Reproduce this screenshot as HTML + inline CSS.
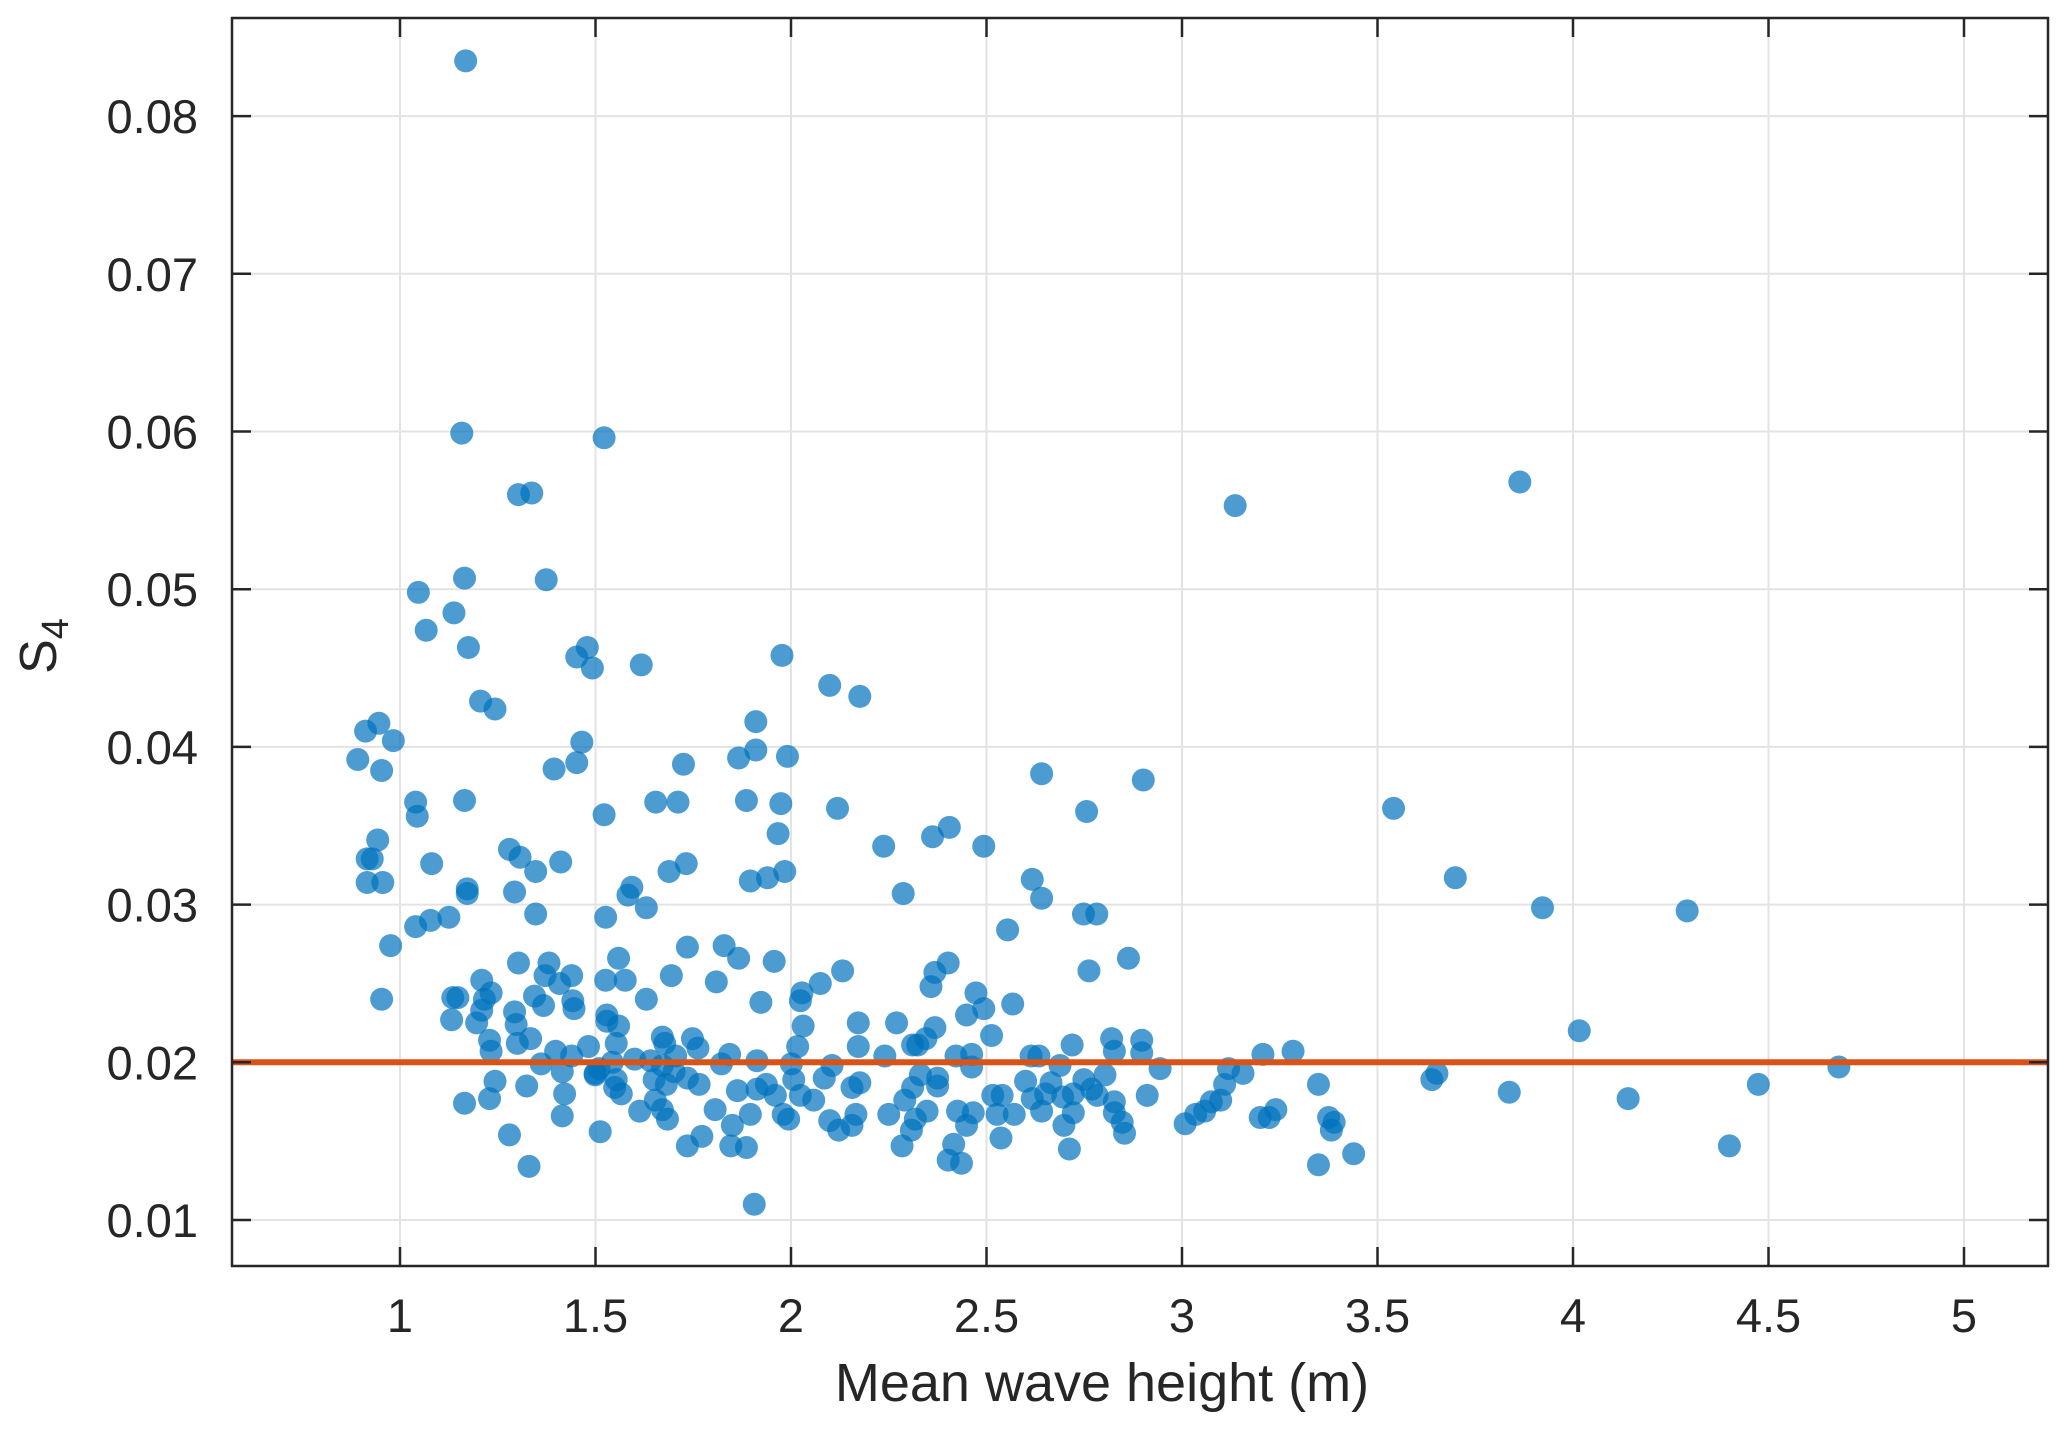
<!DOCTYPE html>
<html><head><meta charset="utf-8"><style>
body{margin:0;background:#fff;}
svg text{font-family:"Liberation Sans",Arial,sans-serif;fill:#262626;}
</style></head><body>
<svg id="chart" width="2067" height="1430" viewBox="0 0 2067 1430">
<g id="grid"></g>
<g id="dots"></g>
<line id="thr" stroke="#D95319" stroke-width="6"/>
<g id="axes"></g>
<text x="1102" y="1401" font-size="54" text-anchor="middle">Mean wave height (m)</text>
<text transform="translate(56,646) rotate(-90)" font-size="52" text-anchor="middle">S<tspan font-size="38" dy="12">4</tspan></text>
</svg>
<script>
const xTicks=[1,1.5,2,2.5,3,3.5,4,4.5,5];
const xTickLabels=["1","1.5","2","2.5","3","3.5","4","4.5","5"];
const yTicks=[0.01,0.02,0.03,0.04,0.05,0.06,0.07,0.08];
const yTickLabels=["0.01","0.02","0.03","0.04","0.05","0.06","0.07","0.08"];
const threshold=0.02;
const xs=[1.168,1.158,1.522,1.303,1.337,3.136,3.864,1.047,1.165,1.374,1.138,1.067,1.175,1.479,1.452,1.492,1.617,1.977,2.099,2.176,1.206,1.243,0.892,0.912,0.946,0.983,0.953,1.394,1.452,1.465,1.910,1.910,1.866,1.991,1.725,1.040,1.044,1.165,1.522,1.654,1.711,1.886,1.974,2.119,1.967,2.237,2.362,2.405,2.493,2.641,2.756,2.901,3.541,3.699,3.922,4.292,4.016,4.680,4.474,4.141,4.400,3.837,3.652,3.639,0.943,0.916,0.929,0.916,0.956,0.976,0.953,1.081,1.040,1.078,1.125,1.172,1.172,1.280,1.307,1.347,1.411,1.293,1.347,1.526,1.593,1.583,1.630,1.688,1.732,1.896,1.940,1.984,2.287,2.617,2.641,2.748,2.782,2.554,2.762,2.863,2.402,2.368,2.358,2.132,2.075,1.957,2.028,2.024,1.829,1.866,1.735,1.694,1.559,1.576,1.526,1.630,1.809,1.923,1.381,1.371,1.303,1.209,1.135,1.148,1.233,1.216,1.209,1.132,1.196,1.293,1.297,1.344,1.367,1.408,1.439,1.442,1.445,1.229,1.233,1.300,1.334,1.529,1.529,1.559,1.553,1.482,1.398,1.439,1.361,1.671,1.677,1.748,1.762,2.031,2.172,2.172,2.270,2.240,2.324,2.311,2.345,2.368,2.473,2.493,2.449,2.513,2.567,2.719,2.820,2.827,2.897,2.897,2.944,3.207,3.284,3.119,3.156,3.349,2.422,2.462,2.614,2.634,2.001,2.105,1.913,1.822,1.843,1.705,1.641,1.600,1.543,1.509,1.499,1.553,1.671,1.701,1.735,1.765,1.650,1.681,1.549,1.566,1.499,1.415,1.421,1.243,1.324,1.229,1.165,1.415,1.512,1.280,1.330,1.613,1.653,1.671,1.684,1.735,1.772,1.806,1.850,1.846,1.886,1.906,1.896,1.863,1.913,1.937,1.960,1.980,1.994,2.007,2.024,2.058,2.085,2.099,2.122,2.156,2.156,2.176,2.166,2.250,2.284,2.291,2.311,2.308,2.318,2.348,2.331,2.375,2.375,2.402,2.416,2.436,2.426,2.449,2.466,2.462,2.516,2.540,2.527,2.537,2.571,2.600,2.617,2.641,2.651,2.665,2.695,2.688,2.698,2.712,2.722,2.722,2.749,2.769,2.783,2.803,2.827,2.827,2.847,2.853,2.911,3.008,3.035,3.058,3.075,3.099,3.109,3.200,3.223,3.240,3.349,3.375,3.382,3.389,3.439,2.017];
const ys=[0.0835,0.0599,0.0596,0.0560,0.0561,0.0553,0.0568,0.0498,0.0507,0.0506,0.0485,0.0474,0.0463,0.0463,0.0457,0.0450,0.0452,0.0458,0.0439,0.0432,0.0429,0.0424,0.0392,0.0410,0.0415,0.0404,0.0385,0.0386,0.0390,0.0403,0.0416,0.0398,0.0393,0.0394,0.0389,0.0365,0.0356,0.0366,0.0357,0.0365,0.0365,0.0366,0.0364,0.0361,0.0345,0.0337,0.0343,0.0349,0.0337,0.0383,0.0359,0.0379,0.0361,0.0317,0.0298,0.0296,0.0220,0.0197,0.0186,0.0177,0.0147,0.0181,0.0193,0.0189,0.0341,0.0329,0.0329,0.0314,0.0314,0.0274,0.0240,0.0326,0.0286,0.0290,0.0292,0.0310,0.0307,0.0335,0.0330,0.0321,0.0327,0.0308,0.0294,0.0292,0.0311,0.0306,0.0298,0.0321,0.0326,0.0315,0.0317,0.0321,0.0307,0.0316,0.0304,0.0294,0.0294,0.0284,0.0258,0.0266,0.0263,0.0257,0.0248,0.0258,0.0250,0.0264,0.0244,0.0239,0.0274,0.0266,0.0273,0.0255,0.0266,0.0252,0.0252,0.0240,0.0251,0.0238,0.0263,0.0255,0.0263,0.0252,0.0241,0.0241,0.0244,0.0240,0.0233,0.0227,0.0225,0.0232,0.0224,0.0242,0.0236,0.0250,0.0255,0.0239,0.0234,0.0214,0.0207,0.0212,0.0215,0.0230,0.0226,0.0223,0.0212,0.0210,0.0207,0.0204,0.0199,0.0216,0.0212,0.0215,0.0209,0.0223,0.0225,0.0210,0.0225,0.0204,0.0211,0.0211,0.0215,0.0222,0.0244,0.0234,0.0230,0.0217,0.0237,0.0211,0.0215,0.0207,0.0214,0.0206,0.0196,0.0205,0.0207,0.0196,0.0193,0.0186,0.0204,0.0205,0.0204,0.0204,0.0199,0.0198,0.0201,0.0199,0.0205,0.0204,0.0201,0.0202,0.0200,0.0196,0.0193,0.0189,0.0198,0.0194,0.0190,0.0186,0.0189,0.0186,0.0184,0.0180,0.0192,0.0194,0.0180,0.0188,0.0185,0.0177,0.0174,0.0166,0.0156,0.0154,0.0134,0.0169,0.0176,0.0170,0.0164,0.0147,0.0153,0.0170,0.0160,0.0147,0.0146,0.0110,0.0167,0.0182,0.0183,0.0186,0.0179,0.0167,0.0164,0.0189,0.0179,0.0176,0.0190,0.0163,0.0157,0.0160,0.0184,0.0187,0.0167,0.0167,0.0147,0.0176,0.0184,0.0157,0.0164,0.0169,0.0192,0.0190,0.0185,0.0138,0.0148,0.0136,0.0169,0.0160,0.0168,0.0197,0.0179,0.0179,0.0167,0.0152,0.0167,0.0188,0.0177,0.0169,0.0180,0.0187,0.0178,0.0198,0.0160,0.0145,0.0168,0.0180,0.0189,0.0183,0.0179,0.0192,0.0175,0.0168,0.0162,0.0155,0.0179,0.0161,0.0167,0.0169,0.0175,0.0176,0.0186,0.0165,0.0165,0.0170,0.0135,0.0165,0.0157,0.0162,0.0142,0.0210];

const L=232,R=2048,T=18,B=1266;
const X=v=>400+(v-1)*391;
const Y=v=>1220-(v-0.01)*15770;
const NS="http://www.w3.org/2000/svg";
function mk(tag,attrs,parent){const e=document.createElementNS(NS,tag);for(const k in attrs)e.setAttribute(k,attrs[k]);parent.appendChild(e);return e;}
const grid=document.getElementById('grid'),axes=document.getElementById('axes'),dots=document.getElementById('dots');
xTicks.forEach((t,i)=>{
  const g=mk('line',{x1:X(t),x2:X(t),y1:T,y2:B,stroke:'#e3e3e3','stroke-width':2},grid);
  
  
  const a=mk('line',{x1:X(t),x2:X(t),y1:B,y2:B-19,stroke:'#262626','stroke-width':2.5},axes);
  
  
  const b=mk('line',{x1:X(t),x2:X(t),y1:T,y2:T+19,stroke:'#262626','stroke-width':2.5},axes);
  
  
  const tx=mk('text',{x:X(t),y:1332,'font-size':47,'text-anchor':'middle'},axes);
  tx.textContent=xTickLabels[i];
  
  
});
yTicks.forEach((t,i)=>{
  const g=mk('line',{x1:L,x2:R,y1:Y(t),y2:Y(t),stroke:'#e3e3e3','stroke-width':2},grid);
  
  
  const a=mk('line',{x1:L,x2:L+19,y1:Y(t),y2:Y(t),stroke:'#262626','stroke-width':2.5},axes);
  
  
  const b=mk('line',{x1:R,x2:R-19,y1:Y(t),y2:Y(t),stroke:'#262626','stroke-width':2.5},axes);
  
  
  const tx=mk('text',{x:198,y:Y(t)+17,'font-size':47,'text-anchor':'end'},axes);
  tx.textContent=yTickLabels[i];
  
  
});
const box=mk('rect',{x:L,y:T,width:R-L,height:B-T,fill:'none',stroke:'#262626','stroke-width':2.5},axes);


xs.forEach((x,i)=>{
  const c=mk('circle',{cx:X(x),cy:Y(ys[i]),r:11.5,fill:'#0072BD','fill-opacity':0.7},dots);
  
  
});
const th=document.getElementById('thr');
th.setAttribute('x1',L);th.setAttribute('x2',R);th.setAttribute('y1',Y(threshold));th.setAttribute('y2',Y(threshold));
</script>
</body></html>
